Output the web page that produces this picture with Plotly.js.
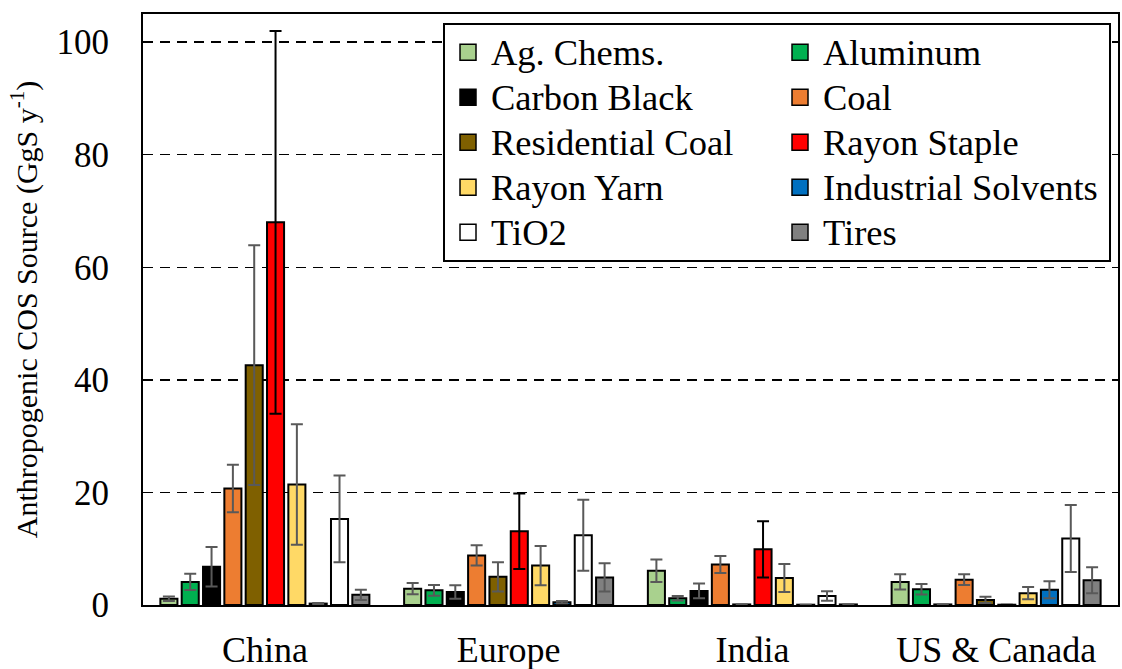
<!DOCTYPE html>
<html>
<head>
<meta charset="utf-8">
<script src="https://cdn.plot.ly/plotly-3.0.1.min.js"></script>
<style>html,body{margin:0;padding:0;background:#fff;}#chart{width:1122px;height:669px;}</style>
</head>
<body>
<div id="chart"></div>
<script>
const regions = ["China", "Europe", "India", "US & Canada"];
const seriesNames = ["Ag. Chems.", "Aluminum", "Carbon Black", "Coal", "Residential Coal", "Rayon Staple", "Rayon Yarn", "Industrial Solvents", "TiO2", "Tires"];
const seriesColors = ["#a9d18e", "#00b050", "#000000", "#ed7d31", "#7f6000", "#ff0000", "#ffd966", "#0070c0", "#ffffff", "#808080"];
const errorColors = ["#595959", "#595959", "#595959", "#595959", "#595959", "#000000", "#595959", "#595959", "#595959", "#595959"];

const agChems = [1.1, 2.9, 6.1, 4.1];
const aluminum = [4.1, 2.6, 1.2, 2.8];
const carbonBlack = [6.8, 2.3, 2.5, 0.1];
const coal = [20.7, 8.8, 7.2, 4.5];
const residentialCoal = [42.6, 5.0, 0.1, 0.9];
const rayonStaple = [68.0, 13.1, 9.9, 0.05];
const rayonYarn = [21.4, 7.0, 4.8, 2.1];
const industrialSolvents = [0.25, 0.5, 0.05, 2.7];
const tio2 = [15.3, 12.4, 1.6, 11.8];
const tires = [1.8, 4.9, 0.1, 4.4];

const agChemsErr = [0.4, 1.0, 2.0, 1.35];
const aluminumErr = [1.45, 0.95, 0.4, 0.95];
const carbonBlackErr = [3.5, 1.2, 1.3, 0];
const coalErr = [4.2, 1.8, 1.5, 0.95];
const residentialCoalErr = [21.3, 2.6, 0, 0.55];
const rayonStapleErr = [34.0, 6.7, 5.0, 0];
const rayonYarnErr = [10.7, 3.5, 2.5, 1.1];
const industrialSolventsErr = [0.1, 0.2, 0, 1.5];
const tio2Err = [7.7, 6.3, 0.85, 5.95];
const tiresErr = [0.9, 2.5, 0, 2.3];

const yTickVals = [0, 20, 40, 60, 80, 100];

const values = [agChems, aluminum, carbonBlack, coal, residentialCoal, rayonStaple, rayonYarn, industrialSolvents, tio2, tires];
const errors = [agChemsErr, aluminumErr, carbonBlackErr, coalErr, residentialCoalErr, rayonStapleErr, rayonYarnErr, industrialSolventsErr, tio2Err, tiresErr];

const FONT = 'Liberation Serif, Times New Roman, serif';
const traces = [];
seriesNames.forEach((name, i) => {
  traces.push({
    type: 'bar', name: name, x: regions, y: values[i], showlegend: false,
    marker: {color: seriesColors[i], line: {color: '#000', width: 2}},
    error_y: {type: 'data', array: errors[i], visible: true, color: errorColors[i], thickness: 2, width: 6},
    hoverinfo: 'x+y+name'
  });
});
// legend entries
seriesNames.forEach((name, i) => {
  traces.push({
    type: 'scatter', mode: 'markers', name: '<span style="font-size:36.5px">' + name + '</span>',
    x: [regions[0]], y: [null],
    marker: {symbol: 'square', size: 16, color: seriesColors[i], line: {color: '#000', width: 1.5}},
    showlegend: true, hoverinfo: 'skip'
  });
});

const layout = {
  width: 1122, height: 669,
  margin: {l: 143, r: 4, t: 14, b: 64, autoexpand: false},
  paper_bgcolor: '#fff', plot_bgcolor: '#fff',
  font: {family: FONT, color: '#000', size: 35},
  barmode: 'group', bargap: 0.125, bargroupgap: 0.2,
  showlegend: true,
  legend: {
    x: 0.3077, y: 0.985, xanchor: 'left', yanchor: 'top',
    orientation: 'h', entrywidth: 281, entrywidthmode: 'pixels', itemwidth: 36,
    bgcolor: '#fff', bordercolor: '#000', borderwidth: 2,
    font: {family: FONT, size: 32.3, color: '#000'},
    itemsizing: 'trace', traceorder: 'normal'
  },
  xaxis: {
    type: 'category', categoryorder: 'array', categoryarray: regions,
    showline: true, linecolor: '#000', linewidth: 2, mirror: true,
    ticks: '', ticklabelstandoff: 12, tickfont: {family: FONT, size: 36, color: '#000'},
    showgrid: false, zeroline: false, fixedrange: true
  },
  yaxis: {
    range: [0, 105], tickvals: yTickVals, ticktext: yTickVals.map(String),
    showline: true, linecolor: '#000', linewidth: 2, mirror: true,
    ticks: 'inside', ticklen: 7, tickwidth: 1.5, tickcolor: '#000',
    ticklabelstandoff: 25,
    tickfont: {family: FONT, size: 35, color: '#000'},
    showgrid: true, gridcolor: '#000', gridwidth: 1.5, griddash: '10px,7px',
    zeroline: false, fixedrange: true,
    title: {text: 'Anthropogenic COS Source (GgS y<sup>-1</sup>)', font: {family: FONT, size: 30, color: '#000'}, standoff: 10}
  }
};

Plotly.newPlot('chart', traces, layout, {displayModeBar: false, staticPlot: true});
</script>
</body>
</html>
